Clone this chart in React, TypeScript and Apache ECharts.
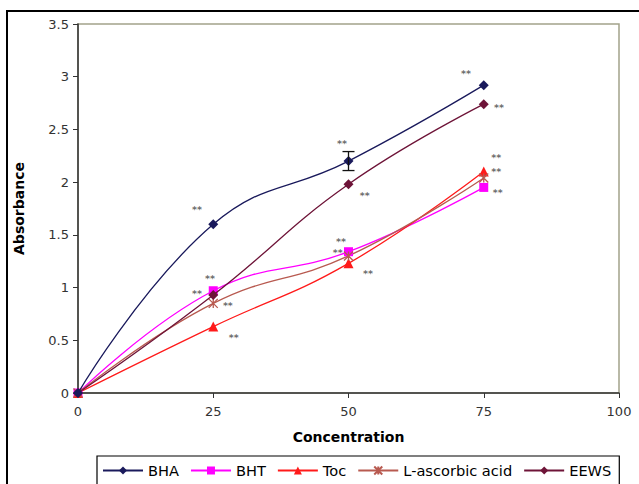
import React, { useEffect, useRef } from "react";
import * as echarts from "echarts";

const concentrations = [0, 25, 50, 75];
const bha = [0, 1.6, 2.2, 2.92];
const bht = [0, 0.97, 1.34, 1.95];
const toc = [0, 0.63, 1.23, 2.1];
const ascorbic = [0, 0.85, 1.3, 2.04];
const eews = [0, 0.93, 1.98, 2.74];
const seriesNames = ["BHA", "BHT", "Toc", "L-ascorbic acid", "EEWS"];
const xTicks = [0, 25, 50, 75, 100];
const yTicks = [0, 0.5, 1, 1.5, 2, 2.5, 3, 3.5];
// error bar: [x, y, half-range]
const errorBars = [[50, 2.2, 0.09]];
// significance annotations: [x, y]
const annotations = [
  [22, 1.74],
  [48.8, 2.37],
  [71.7, 3.03],
  [77.8, 2.71],
  [53, 1.87],
  [77.3, 2.23],
  [77.3, 2.1],
  [77.6, 1.9],
  [48.6, 1.44],
  [48, 1.33],
  [53.6, 1.13],
  [24.4, 1.09],
  [22, 0.94],
  [27.7, 0.83],
  [28.8, 0.53],
];

const FONT = "DejaVu Sans";

export default function App() {
  const ref = useRef<HTMLDivElement>(null);
  useEffect(() => {
    if (!ref.current) return;
    const chart = echarts.init(ref.current, null, { renderer: "svg" });
    const mk = (vals: number[]) => concentrations.map((c, i) => [c, vals[i]]);
    const lineSeries = (
      name: string,
      vals: number[],
      color: string,
      symbol: string,
      size: number,
      z = 3
    ) => ({
      type: "line",
      name,
      data: mk(vals),
      smooth: 0.45,
      symbol,
      symbolSize: size,
      showAllSymbol: true,
      lineStyle: { color, width: 1.3 },
      itemStyle: { color },
      z,
    });
    chart.setOption({
      animation: false,
      backgroundColor: "#ffffff",
      textStyle: { fontFamily: FONT },
      graphic: [
        {
          type: "rect",
          shape: { x: 7, y: 11, width: 700, height: 600 },
          style: { fill: "none", stroke: "#000", lineWidth: 2 },
          silent: true,
        },
      ],
      grid: {
        left: 78,
        right: 20,
        top: 24,
        bottom: 91,
        show: true,
        borderColor: "#a3a38a",
        borderWidth: 1.5,
        backgroundColor: "#fff",
      },
      legend: {
        data: seriesNames,
        left: 97,
        top: 456,
        orient: "horizontal",
        itemWidth: 40,
        itemHeight: 10,
        itemGap: 11,
        padding: [7, 8, 10, 5],
        borderColor: "#000",
        borderWidth: 1.2,
        textStyle: { fontFamily: FONT, fontSize: 14.6, color: "#000" },
      },
      xAxis: {
        type: "value",
        min: 0,
        max: 100,
        interval: 25,
        name: "Concentration",
        nameLocation: "middle",
        nameGap: 37,
        nameTextStyle: { fontFamily: FONT, fontWeight: "bold", fontSize: 14, color: "#000" },
        axisLine: { show: true, lineStyle: { color: "#333", width: 1.5 } },
        axisTick: { show: true, length: 5, inside: false, lineStyle: { color: "#333" } },
        axisLabel: {
          fontFamily: FONT,
          fontSize: 13,
          color: "#333",
          margin: 12,
          formatter: (v: number) => (xTicks.includes(v) ? String(v) : ""),
        },
        splitLine: { show: false },
      },
      yAxis: {
        type: "value",
        min: 0,
        max: 3.5,
        interval: 0.5,
        name: "Absorbance",
        nameLocation: "middle",
        nameGap: 52,
        nameRotate: 90,
        nameTextStyle: { fontFamily: FONT, fontWeight: "bold", fontSize: 14, color: "#000" },
        axisLine: { show: true, lineStyle: { color: "#333", width: 1.5 } },
        axisTick: { show: true, length: 5, inside: false, lineStyle: { color: "#333" } },
        axisLabel: {
          fontFamily: FONT,
          fontSize: 13,
          color: "#333",
          margin: 9,
          formatter: (v: number) => (yTicks.includes(v) ? String(v) : ""),
        },
        splitLine: { show: false },
      },
      series: [
        lineSeries("BHA", bha, "#1a1a5c", "diamond", 10, 5),
        lineSeries("BHT", bht, "#ff00ff", "rect", 9),
        lineSeries("Toc", toc, "#ff1a1a", "triangle", 10),
        {
          type: "line",
          name: "L-ascorbic acid",
          data: mk(ascorbic),
          smooth: 0.45,
          symbol: "path://M0,0L10,10M10,0L0,10M5,0L5,10",
          symbolSize: 9,
          lineStyle: { color: "#b85a50", width: 1.3 },
          itemStyle: { color: "#b85a50", borderColor: "#b85a50", borderWidth: 1.3 },
          z: 3,
        },
        lineSeries("EEWS", eews, "#6e1438", "diamond", 10, 4),
        {
          type: "custom",
          name: "errorbar",
          data: errorBars,
          z: 6,
          renderItem: (params: any, api: any) => {
            const x = api.value(0);
            const y = api.value(1);
            const e = api.value(2);
            const top = api.coord([x, y + e]);
            const bot = api.coord([x, y - e]);
            const hw = 6;
            const style = { stroke: "#111", lineWidth: 1.3 };
            return {
              type: "group",
              children: [
                { type: "line", shape: { x1: top[0], y1: top[1], x2: bot[0], y2: bot[1] }, style },
                { type: "line", shape: { x1: top[0] - hw, y1: top[1], x2: top[0] + hw, y2: top[1] }, style },
                { type: "line", shape: { x1: bot[0] - hw, y1: bot[1], x2: bot[0] + hw, y2: bot[1] }, style },
              ],
            };
          },
        },
        {
          type: "scatter",
          name: "annotations",
          data: annotations,
          symbolSize: 0,
          z: 7,
          label: {
            show: true,
            position: "inside",
            formatter: "**",
            fontFamily: FONT,
            fontSize: 9.5,
            fontWeight: "bold",
            color: "#444",
          },
        },
      ],
    });
    return () => chart.dispose();
  }, []);
  return (
    <div
      ref={ref}
      style={{ position: "fixed", left: 0, top: 0, width: 639, height: 484 }}
    />
  );
}
